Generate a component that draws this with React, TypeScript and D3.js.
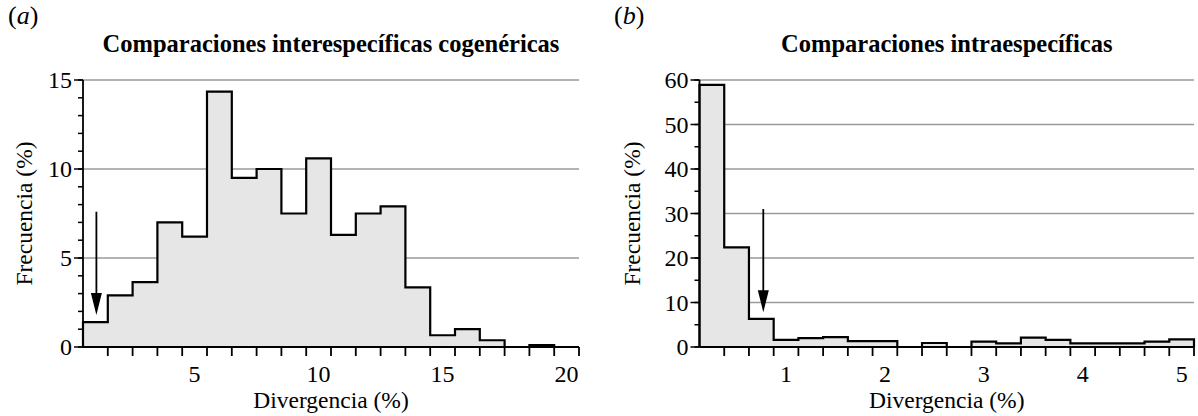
import React from "react";
import * as d3 from "d3";

// Panel (a): interspecific congeneric comparisons, bins centred on 1..20 (%)
const binCentersA = [1, 2, 3, 4, 5, 6, 7, 8, 9, 10, 11, 12, 13, 14, 15, 16, 17, 18, 19, 20];
const valuesA = [1.4, 2.9, 3.65, 7.0, 6.2, 14.35, 9.5, 10.0, 7.5, 10.6, 6.3, 7.5, 7.9, 3.35, 0.66, 1.0, 0.38, 0, 0.1, 0];
const xLabelsA = [5, 10, 15, 20];
const yMajorA = [0, 5, 10, 15];
const yGridA = [5, 10, 15];
const arrowA = { x: 1.04, from: 7.6, to: 1.8 };

// Panel (b): intraspecific comparisons, bins centred on 0.25..5.0 (%)
const binCentersB = [0.25, 0.5, 0.75, 1.0, 1.25, 1.5, 1.75, 2.0, 2.25, 2.5, 2.75, 3.0, 3.25, 3.5, 3.75, 4.0, 4.25, 4.5, 4.75, 5.0];
const valuesB = [58.9, 22.4, 6.3, 1.6, 2.0, 2.2, 1.3, 1.3, 0, 0.9, 0, 1.2, 0.8, 2.1, 1.6, 0.8, 0.8, 0.8, 1.2, 1.7];
const xLabelsB = [1, 2, 3, 4, 5];
const yMajorB = [0, 10, 20, 30, 40, 50, 60];
const yGridB = [10, 20, 30, 40, 50, 60];
const arrowB = { x: 0.77, from: 31, to: 7.8 };

const FONT = "'Liberation Serif', 'Times New Roman', serif";
const TICK_FS = 24;
const LABEL_FS = 23.5;
const TITLE_FS = 24.5;

type PanelProps = {
  letter: string;
  title: string;
  centers: number[];
  values: number[];
  binWidth: number;
  xLabels: number[];
  yMajor: number[];
  yMinorStep: number;
  yMax: number;
  yGrid: number[];
  arrow: { x: number; from: number; to: number };
  x0: number;
  x1: number;
  letterX: number;
  yLabelX: number;
};

function Panel(p: PanelProps) {
  const top = 80;
  const bottom = 347;
  const lo = p.centers[0] - p.binWidth / 2;
  const hi = p.centers[p.centers.length - 1] + p.binWidth / 2;
  const x = d3.scaleLinear().domain([lo, hi]).range([p.x0, p.x1]);
  const y = d3.scaleLinear().domain([0, p.yMax]).range([bottom, top]);

  const pts: [number, number][] = [[lo, 0]];
  p.centers.forEach((c, i) => {
    pts.push([c - p.binWidth / 2, p.values[i]]);
    pts.push([c + p.binWidth / 2, p.values[i]]);
  });
  pts.push([hi, 0]);
  const line = d3.line<[number, number]>().x((d) => x(d[0])).y((d) => y(d[1]));
  const pathD = line(pts) || "";

  const edges = p.centers.map((c) => c + p.binWidth / 2);
  const minor = d3.range(0, p.yMax + 1e-9, p.yMinorStep);

  const ax = x(p.arrow.x);
  const tipY = y(p.arrow.to);
  const headLen = 22;
  const headW = 5.5;

  return (
    <g>
      <text x={p.letterX} y={24} fontFamily={FONT} fontSize={26}>
        (<tspan fontStyle="italic">{p.letter}</tspan>)
      </text>
      <text x={(p.x0 + p.x1) / 2} y={52} textAnchor="middle" fontFamily={FONT} fontSize={TITLE_FS} fontWeight="bold">
        {p.title}
      </text>
      {p.yGrid.map((g) => (
        <line key={"g" + g} x1={p.x0} x2={p.x1} y1={y(g)} y2={y(g)} stroke="#9a9a9a" strokeWidth={1.3} />
      ))}
      <path d={pathD} fill="#e6e6e6" stroke="none" />
      <path d={pathD} fill="none" stroke="#000" strokeWidth={2.2} strokeLinejoin="miter" />
      {/* y axis */}
      <line x1={p.x0} x2={p.x0} y1={top} y2={bottom} stroke="#000" strokeWidth={1.8} />
      {minor.map((m) => (
        <line key={"m" + m} x1={p.x0 - 5} x2={p.x0} y1={y(m)} y2={y(m)} stroke="#000" strokeWidth={1.5} />
      ))}
      {p.yMajor.map((m) => (
        <g key={"M" + m}>
          <line x1={p.x0 - 9} x2={p.x0} y1={y(m)} y2={y(m)} stroke="#000" strokeWidth={1.5} />
          <text x={p.x0 - 11} y={y(m)} dy="0.35em" textAnchor="end" fontFamily={FONT} fontSize={TICK_FS}>
            {m}
          </text>
        </g>
      ))}
      {/* x axis */}
      <line x1={p.x0} x2={p.x1} y1={bottom} y2={bottom} stroke="#000" strokeWidth={2.2} />
      {edges.map((e, i) => (
        <line key={"e" + i} x1={x(e)} x2={x(e)} y1={bottom} y2={bottom + 9} stroke="#000" strokeWidth={1.8} />
      ))}
      {p.xLabels.map((l) => (
        <text key={"xl" + l} x={x(l)} y={382} textAnchor="middle" fontFamily={FONT} fontSize={TICK_FS}>
          {l}
        </text>
      ))}
      <text x={(p.x0 + p.x1) / 2} y={408} textAnchor="middle" fontFamily={FONT} fontSize={LABEL_FS}>
        Divergencia (%)
      </text>
      <text
        transform={`translate(${p.yLabelX},${(top + bottom) / 2}) rotate(-90)`}
        textAnchor="middle"
        dy="0.35em"
        fontFamily={FONT}
        fontSize={LABEL_FS}
      >
        Frecuencia (%)
      </text>
      {/* arrow */}
      <line x1={ax} x2={ax} y1={y(p.arrow.from)} y2={tipY - headLen + 2} stroke="#000" strokeWidth={1.8} />
      <path d={`M${ax - headW},${tipY - headLen} L${ax + headW},${tipY - headLen} L${ax},${tipY} Z`} fill="#000" />
    </g>
  );
}

export default function App() {
  return (
    <svg width={1198} height={416} style={{ display: "block", position: "absolute", left: 0, top: 0 }}>
      <rect width={1198} height={416} fill="#fff" />
      <Panel
        letter="a"
        title="Comparaciones interespecíficas cogenéricas"
        centers={binCentersA}
        values={valuesA}
        binWidth={1}
        xLabels={xLabelsA}
        yMajor={yMajorA}
        yMinorStep={1}
        yMax={15}
        yGrid={yGridA}
        arrow={arrowA}
        x0={83}
        x1={579}
        letterX={8}
        yLabelX={24}
      />
      <Panel
        letter="b"
        title="Comparaciones intraespecíficas"
        centers={binCentersB}
        values={valuesB}
        binWidth={0.25}
        xLabels={xLabelsB}
        yMajor={yMajorB}
        yMinorStep={5}
        yMax={60}
        yGrid={yGridB}
        arrow={arrowB}
        x0={699.5}
        x1={1194}
        letterX={614}
        yLabelX={632}
      />
    </svg>
  );
}
